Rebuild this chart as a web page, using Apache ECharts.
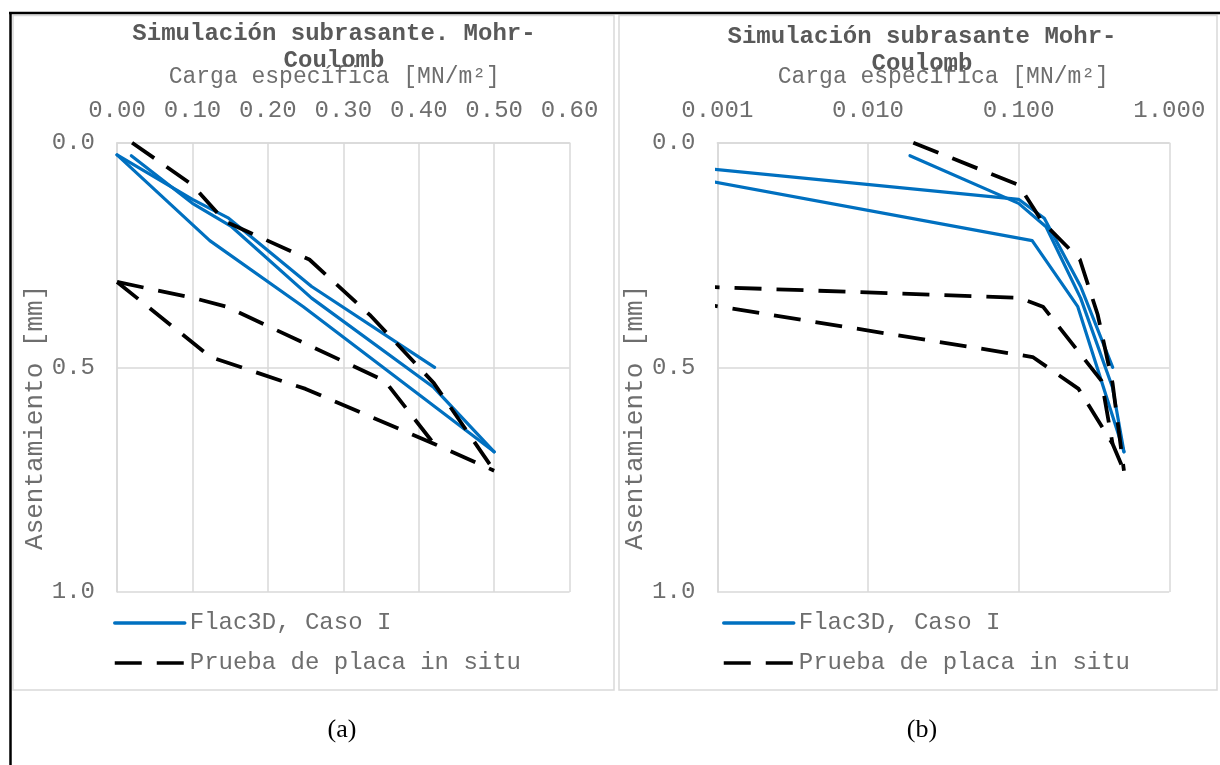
<!DOCTYPE html>
<html>
<head>
<meta charset="utf-8">
<script src="https://cdn.jsdelivr.net/npm/echarts@6/dist/echarts.min.js"></script>
<style>
  html, body { margin: 0; background: #ffffff; }
  #chart { width: 1220px; height: 765px; }
</style>
</head>
<body>
<div id="chart"></div>
<script>
// Load (MN/m²) against settlement (mm); every run is its own polyline.
const flacRun1X = [0.0001, 0.100, 0.148, 0.258, 0.421];
const flacRun1Y = [0.027, 0.126, 0.168, 0.320, 0.500];
const flacRun2X = [0.019, 0.100, 0.152, 0.258, 0.420, 0.500];
const flacRun2Y = [0.029, 0.135, 0.187, 0.346, 0.545, 0.688];
const flacRun3X = [0.0001, 0.123, 0.247, 0.500];
const flacRun3Y = [0.027, 0.218, 0.365, 0.688];

const placaRun1X = [0.020, 0.100, 0.143, 0.255, 0.335, 0.420, 0.500];
const placaRun1Y = [0.000, 0.094, 0.175, 0.260, 0.383, 0.535, 0.730];
const placaRun2X = [0.0001, 0.100, 0.145, 0.355, 0.420];
const placaRun2Y = [0.310, 0.345, 0.365, 0.530, 0.670];
const placaRun3X = [0.0001, 0.124, 0.250, 0.420, 0.500];
const placaRun3Y = [0.310, 0.477, 0.548, 0.670, 0.730];

const flacName = 'Flac3D, Caso I';
const placaName = 'Prueba de placa in situ';
const titleA = 'Simulación subrasante. Mohr-\nCoulomb';
const titleB = 'Simulación subrasante Mohr-\nCoulomb';
const xAxisName = 'Carga específica [MN/m²]';
const yAxisName = 'Asentamiento [mm]';

const flacRuns = [[flacRun1X, flacRun1Y], [flacRun2X, flacRun2Y], [flacRun3X, flacRun3Y]];
const placaRuns = [[placaRun1X, placaRun1Y], [placaRun2X, placaRun2Y], [placaRun3X, placaRun3Y]];

const MONO = '"Liberation Mono", "DejaVu Sans Mono", monospace';
const TEXT = '#595959';
const LABEL = '#6e6e6e';
const GRID_LINE = '#d9d9d9';

function zip(xs, ys) { return xs.map((x, i) => [x, ys[i]]); }

function buildSeries(gridIdx) {
  const out = [];
  flacRuns.forEach(([xs, ys]) => out.push({
    name: flacName, type: 'line', xAxisIndex: gridIdx, yAxisIndex: gridIdx,
    data: zip(xs, ys), symbol: 'none', showSymbol: false, clip: true, animation: false,
    lineStyle: { color: '#0070C0', width: 3.2, cap: 'round', join: 'round' },
    itemStyle: { color: '#0070C0' }
  }));
  placaRuns.forEach(([xs, ys]) => out.push({
    name: placaName, type: 'line', xAxisIndex: gridIdx, yAxisIndex: gridIdx,
    data: zip(xs, ys), symbol: 'none', showSymbol: false, clip: true, animation: false,
    lineStyle: { color: '#000000', width: 3.8, type: [27, 15], cap: 'butt', join: 'round' },
    itemStyle: { color: '#000000' }
  }));
  return out;
}

function yAxisFor(gridIdx) {
  return {
    gridIndex: gridIdx, type: 'value', inverse: true, min: 0, max: 1, interval: 0.5,
    name: yAxisName, nameLocation: 'middle', nameRotate: 90, nameGap: 66,
    nameTextStyle: { fontFamily: MONO, fontSize: 26, color: LABEL, padding: [0, 100, 0, 0] },
    axisLine: { show: true, lineStyle: { color: GRID_LINE, width: 1.5 } },
    axisTick: { show: false },
    axisLabel: { fontFamily: MONO, fontSize: 24, color: LABEL, margin: 22,
                 formatter: v => v.toFixed(1) },
    splitLine: { show: true, lineStyle: { color: GRID_LINE, width: 1.5 } }
  };
}

const legendCommon = {
  orient: 'vertical', itemWidth: 70, itemHeight: 14, itemGap: 16, padding: 0,
  itemStyle: { opacity: 0 },
  lineStyle: { width: 3.5 },
  textStyle: { fontFamily: MONO, fontSize: 24, color: LABEL },
  data: [flacName, placaName]
};

const titleStyle = { fontFamily: MONO, fontSize: 24, fontWeight: 'bold', color: TEXT, lineHeight: 27 };

const option = {
  backgroundColor: '#ffffff',
  animation: false,
  title: [
    { text: titleA, left: 334, top: 20, textAlign: 'center', padding: 0, textStyle: titleStyle },
    { text: titleB, left: 922, top: 23, textAlign: 'center', padding: 0, textStyle: titleStyle }
  ],
  legend: [
    Object.assign({ left: 113, top: 611 }, legendCommon),
    Object.assign({ left: 722, top: 611 }, legendCommon)
  ],
  grid: [
    { left: 117, top: 142.7, width: 452.6, height: 449.3 },
    { left: 717.3, top: 142.7, width: 452, height: 449.3 }
  ],
  xAxis: [
    {
      gridIndex: 0, type: 'value', position: 'top', min: 0, max: 0.6, interval: 0.1,
      name: xAxisName, nameLocation: 'middle', nameGap: 54,
      nameTextStyle: { fontFamily: MONO, fontSize: 23, color: LABEL, padding: [0, 18, 0, 0] },
      axisLine: { show: true, lineStyle: { color: GRID_LINE, width: 1.5 } },
      axisTick: { show: false },
      axisLabel: { fontFamily: MONO, fontSize: 24, color: LABEL, margin: 20,
                   formatter: v => v.toFixed(2) },
      splitLine: { show: true, lineStyle: { color: GRID_LINE, width: 1.5 } }
    },
    {
      gridIndex: 1, type: 'log', logBase: 10, position: 'top', min: 0.001, max: 1,
      name: xAxisName, nameLocation: 'middle', nameGap: 54,
      nameTextStyle: { fontFamily: MONO, fontSize: 23, color: LABEL },
      axisLine: { show: true, lineStyle: { color: GRID_LINE, width: 1.5 } },
      axisTick: { show: false },
      axisLabel: { fontFamily: MONO, fontSize: 24, color: LABEL, margin: 20,
                   formatter: v => v.toFixed(3) },
      splitLine: { show: true, lineStyle: { color: GRID_LINE, width: 1.5 } }
    }
  ],
  yAxis: [yAxisFor(0), yAxisFor(1)],
  series: buildSeries(0).concat(buildSeries(1)),
  graphic: [
    // chart-area frames
    { type: 'rect', shape: { x: 13, y: 15.5, width: 601, height: 674.5 },
      style: { fill: null, stroke: GRID_LINE, lineWidth: 1.5 }, silent: true },
    { type: 'rect', shape: { x: 619, y: 15.5, width: 598, height: 674.5 },
      style: { fill: null, stroke: GRID_LINE, lineWidth: 1.5 }, silent: true },
    // outer figure border
    { type: 'line', shape: { x1: 9, y1: 13, x2: 1220, y2: 13 },
      style: { stroke: '#000000', lineWidth: 2.5 }, silent: true },
    { type: 'line', shape: { x1: 10.5, y1: 12, x2: 10.5, y2: 765 },
      style: { stroke: '#000000', lineWidth: 2.5 }, silent: true },
    // sub-figure captions
    { type: 'text', x: 342, y: 730, silent: true,
      style: { text: '(a)', font: '26px "Liberation Serif"', fill: '#000000',
               textAlign: 'center', textVerticalAlign: 'middle' } },
    { type: 'text', x: 922, y: 730, silent: true,
      style: { text: '(b)', font: '26px "Liberation Serif"', fill: '#000000',
               textAlign: 'center', textVerticalAlign: 'middle' } }
  ]
};

const chart = echarts.init(document.getElementById('chart'), null, { renderer: 'canvas' });
chart.setOption(option);
</script>
</body>
</html>
